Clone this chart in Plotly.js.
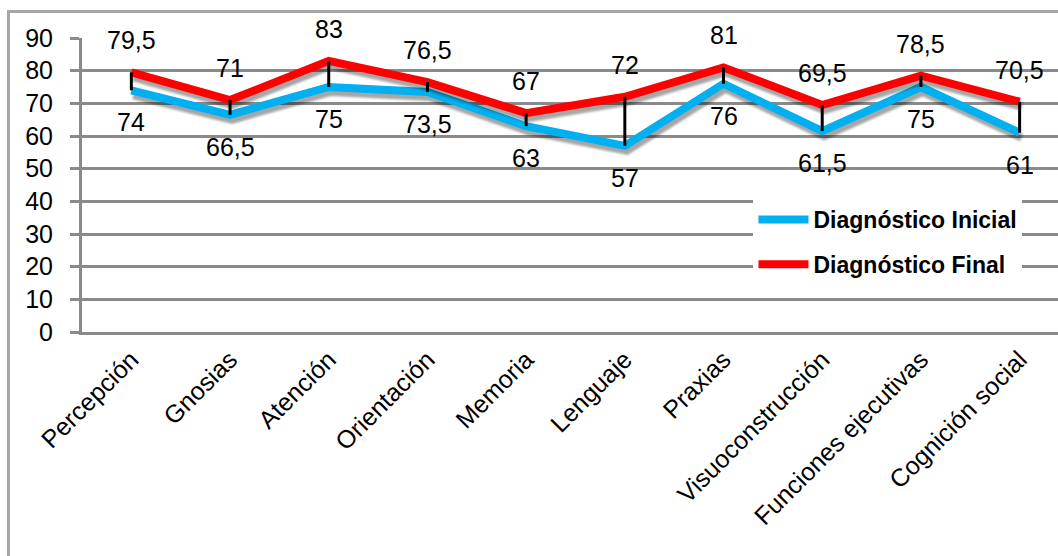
<!DOCTYPE html>
<html>
<head>
<meta charset="utf-8">
<script src="https://cdn.plot.ly/plotly-3.0.1.min.js"></script>
<style>
  html, body { margin: 0; padding: 0; background: #ffffff; overflow: hidden; }
  #wrap { position: relative; width: 1058px; height: 556px; }
  #frame {
    position: absolute; left: 7px; top: 10px; width: 1100px; height: 600px;
    border-left: 3px solid #a6a6a6; border-top: 3px solid #a6a6a6;
    box-sizing: border-box; z-index: 0;
  }
  #chart { position: absolute; left: 0; top: 0; width: 1058px; height: 556px; z-index: 1; }
</style>
</head>
<body>
<div id="wrap">
  <div id="frame"></div>
  <div id="chart"></div>
</div>
<script>
// Cognitive domains
const categories = [
  'Percepción', 'Gnosias', 'Atención', 'Orientación', 'Memoria',
  'Lenguaje', 'Praxias', 'Visuoconstrucción', 'Funciones ejecutivas', 'Cognición social'
];
// Scores at the start and at the end
const inicial = [74, 66.5, 75, 73.5, 63, 57, 76, 61.5, 75, 61];
const final   = [79.5, 71, 83, 76.5, 67, 72, 81, 69.5, 78.5, 70.5];
const yTicks  = [0, 10, 20, 30, 40, 50, 60, 70, 80, 90];

const FONT = 'Liberation Sans, Arial, sans-serif';
const fmt = v => String(v).replace('.', ',');

// High-low connectors between the two series
const hlX = [], hlY = [];
categories.forEach((c, i) => {
  hlX.push(c, c, null);
  hlY.push(inicial[i], final[i], null);
});

const traces = [
  {
    type: 'scatter', mode: 'lines', name: 'Diagnóstico Inicial',
    x: categories, y: inicial, legendgroup: 'a',
    line: { color: '#00B0F0', width: 8 }, hoverinfo: 'skip'
  },
  {
    type: 'scatter', mode: 'lines', name: 'Diagnóstico Final',
    x: categories, y: final, legendgroup: 'b',
    line: { color: '#FF0000', width: 8 }, hoverinfo: 'skip'
  },
  {
    type: 'scatter', mode: 'lines', x: hlX, y: hlY, showlegend: false,
    line: { color: '#000000', width: 3 }, hoverinfo: 'skip'
  }
];

const annotations = [];
categories.forEach((c, i) => {
  annotations.push({
    x: c, y: final[i], text: fmt(final[i]), showarrow: false,
    yshift: 32, font: { family: FONT, size: 25, color: '#000' }
  });
  annotations.push({
    x: c, y: inicial[i], text: fmt(inicial[i]), showarrow: false,
    yshift: -32, font: { family: FONT, size: 25, color: '#000' }
  });
});

const layout = {
  width: 1058, height: 556,
  margin: { l: 82, r: 0, t: 38, b: 224, pad: 0 },
  paper_bgcolor: 'rgba(0,0,0,0)', plot_bgcolor: 'rgba(0,0,0,0)',
  font: { family: FONT, size: 25, color: '#000' },
  showlegend: true,
  legend: {
    x: 0.688, y: 0.456, xanchor: 'left', yanchor: 'top',
    bgcolor: '#ffffff', borderwidth: 0,
    font: { family: FONT, size: 23, color: '#000', weight: 'bold' },
    tracegroupgap: 12, itemwidth: 50, traceorder: 'grouped'
  },
  xaxis: {
    type: 'category', range: [-0.5, 9.389],
    showgrid: false, zeroline: false,
    showline: true, linecolor: '#8a8a8a', linewidth: 3,
    ticks: '', tickangle: -45,
    tickfont: { family: FONT, size: 25, color: '#000' }
  },
  yaxis: {
    range: [0, 90], tickvals: yTicks, ticktext: yTicks.map(String),
    showgrid: true, gridcolor: '#8a8a8a', gridwidth: 3,
    zeroline: false, showline: true, linecolor: '#8a8a8a', linewidth: 3,
    ticks: 'outside', ticklen: 9, tickwidth: 3, tickcolor: '#8a8a8a',
    ticklabelstandoff: 12,
    tickfont: { family: FONT, size: 25, color: '#000' }
  },
  annotations: annotations
};

Plotly.newPlot('chart', traces, layout, { staticPlot: true }).then(gd => {
  // soft drop shadow under the two series lines
  const paths = gd.querySelectorAll('.scatterlayer .trace');
  [0, 1].forEach(i => {
    if (paths[i]) paths[i].style.filter = 'drop-shadow(2px 5px 1px rgba(0,0,0,0.35))';
  });
});
</script>
</body>
</html>
